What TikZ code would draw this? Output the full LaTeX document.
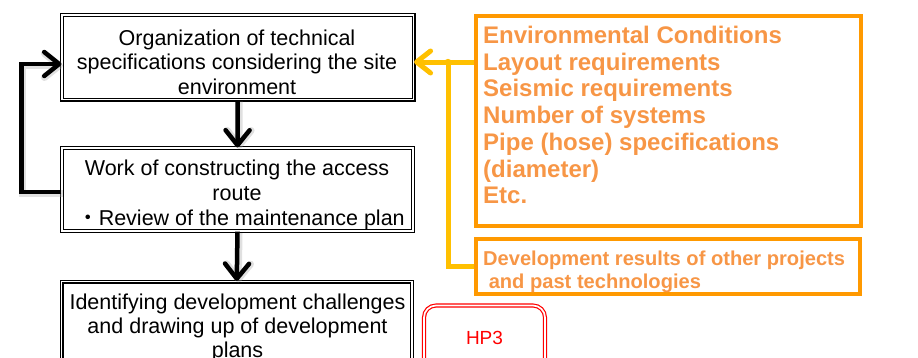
\documentclass[tikz,border=0pt]{standalone}
\usepackage{fontspec}
\setmainfont{Liberation Sans}
\newfontfamily\cjkfont{Noto Sans CJK JP}
\usetikzlibrary{arrows.meta}

\definecolor{boxorange}{HTML}{FF9900}
\definecolor{textorange}{HTML}{F79646}
\definecolor{linkyellow}{HTML}{FFC000}
\definecolor{hpred}{HTML}{FF0000}

\tikzset{
  flowbox/.style={draw=black, double=white, double distance=1.8pt,
    line width=1.1pt, inner sep=0pt, shape=rectangle},
  infobox/.style={draw=boxorange, line width=3.5pt, inner sep=0pt, shape=rectangle},
  hpbox/.style={draw=hpred, double=white, double distance=1.7pt,
    line width=1.2pt, inner sep=0pt, rounded corners=12pt, shape=rectangle},
  flowtext/.style={font=\fontsize{21.5}{24.5}\selectfont, anchor=base, inner sep=0pt},
  infotext/.style={font=\bfseries\fontsize{24}{26.7}\selectfont, text=textorange,
    anchor=base west, inner sep=0pt},
  smalltext/.style={font=\bfseries\fontsize{20.1}{23}\selectfont, text=textorange,
    anchor=base west, inner sep=0pt},
  shade line/.style={preaction={draw=black!35, opacity=0.35, line width=7pt,
    transform canvas={shift={(1.5pt,-1.5pt)}}}},
  flowlink/.style={draw=black, line width=4.5pt, line join=miter,
    -{Straight Barb[length=15pt,width=24pt,round]}},
  infolink/.style={draw=linkyellow, line width=5pt,
    -{Straight Barb[length=14pt,width=22pt,round]}},
  infoline/.style={draw=linkyellow, line width=5pt, line join=miter},
}

\begin{document}
\begin{tikzpicture}[x=1pt,y=-1pt]
\useasboundingbox (0,0) rectangle (918,357);
\clip (0,0) rectangle (918,357);

% process boxes
\node[flowbox, minimum width=351.5pt, minimum height=84.5pt] (spec) at (237.75,57.25) {};
\node[flowbox, minimum width=351pt, minimum height=83pt] (route) at (237.5,189.5) {};
\node[flowbox, minimum width=350.5pt, minimum height=100pt] (plan) at (236.75,331.5) {};

\node[flowtext] (specA) at (237,45) {Organization of technical};
\node[flowtext] (specB) at (237,69.5) {specifications considering the site};
\node[flowtext] (specC) at (237,94) {environment};

\node[flowtext] (routeA) at (237,175.5) {Work of constructing the access};
\node[flowtext] (routeB) at (237,200.5) {route};
\node[flowtext] (routeC) at (241,225) {{\cjkfont ・}Review of the maintenance plan};

\node[flowtext] (planA) at (237.5,309) {Identifying development challenges};
\node[flowtext] (planB) at (237.5,333) {and drawing up of development};
\node[flowtext] (planC) at (237.5,357.5) {plans};

% input boxes
\node[infobox, minimum width=385pt, minimum height=210pt] (cond) at (668.5,121) {};
\node[infobox, minimum width=384pt, minimum height=55pt] (past) at (668,266.5) {};

\node[infotext] (condA) at (483,43.5) {Environmental Conditions};
\node[infotext] (condB) at (483,70.2) {Layout requirements};
\node[infotext] (condC) at (483,96.9) {Seismic requirements};
\node[infotext] (condD) at (483,123.6) {Number of systems};
\node[infotext] (condE) at (483,150.3) {Pipe (hose) specifications};
\node[infotext] (condF) at (483,177) {(diameter)};
\node[infotext] (condG) at (483,203.7) {Etc.};

\node[smalltext] (pastA) at (483,265.5) {Development results of other projects};
\node[smalltext] (pastB) at (483,288.5) {\ and past technologies};

% HP3 box
\node[hpbox, minimum width=121pt, minimum height=90pt] (hp) at (484.5,350.5) {};
\node[font=\fontsize{19}{22}\selectfont, text=hpred, anchor=base, inner sep=0pt] (hpA) at (484.5,344.3) {HP3};

% flow connectors
\draw[flowlink, shade line] (spec.south) -- (route.north);
\draw[flowlink, shade line] (route.south) -- (plan.north);
\draw[flowlink, shade line] ([yshift=-2.5pt]route.west) -- ++(-40,0)
  |- ([yshift=-6.75pt]spec.west);

% input connectors
\coordinate (join) at (448,62);
\draw[infolink] ([yshift=59pt]cond.west) -- ([yshift=-4.75pt]spec.east);
\draw[infoline] (past.west) -| (join);
\fill[linkyellow] (join) circle (3.2pt);
\end{tikzpicture}
\end{document}
